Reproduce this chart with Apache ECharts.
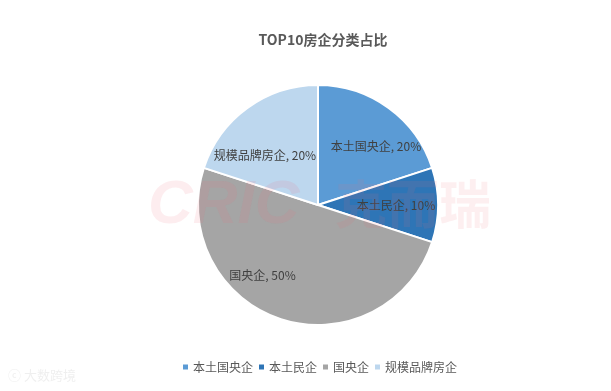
<!DOCTYPE html>
<html>
<head>
<meta charset="utf-8">
<script src="https://cdn.jsdelivr.net/npm/echarts@6/dist/echarts.min.js"></script>
<style>html,body{margin:0;padding:0;background:#fff;}#c{width:611px;height:391px;}</style>
</head>
<body>
<div id="c"></div>
<script>
var categories = ['本土国央企', '本土民企', '国央企', '规模品牌房企'];
var values = [20, 10, 50, 20];
var colors = ['#5B9BD5', '#2E75B6', '#A5A5A5', '#BDD7EE'];
var labelOffsets = [[21, -8], [15, 0], [-36, 11], [-16, 1]];

var chart = echarts.init(document.getElementById('c'));
chart.setOption({
  animation: false,
  backgroundColor: '#ffffff',
  title: {
    text: 'TOP10房企分类占比',
    left: 318, top: 28, textAlign: 'center',
    textStyle: { fontSize: 14, fontWeight: 'bold', color: '#595959', fontFamily: 'Noto Sans CJK SC' }
  },
  legend: {
    bottom: 13, left: 176,
    itemWidth: 7, itemHeight: 7, itemGap: 4, icon: 'rect',
    textStyle: { fontSize: 12, color: '#595959', fontFamily: 'Noto Sans CJK SC', padding: [0,0,0,-1] },
    data: categories
  },
  graphic: [
    { type: 'text', left: 148, top: 175, z: 100, silent: true,
      style: { text: 'CRIC', fontSize: 62, fontWeight: 'bold', fontStyle: 'italic', fill: 'rgba(235,110,120,0.12)', fontFamily: 'Liberation Sans' } },
    { type: 'text', left: 335, top: 178, z: 100, silent: true,
      style: { text: '克而瑞', fontSize: 52, fontWeight: 'bold', fill: 'rgba(235,110,120,0.11)', fontFamily: 'Noto Sans CJK SC' } },
    { type: 'text', left: 8, top: 369, z: 100, silent: true,
      style: { text: 'ⓒ 大数跨境', fontSize: 13, fill: 'rgba(190,190,190,0.25)', fontFamily: 'Noto Sans CJK SC' } }
  ],
  series: [{
    type: 'pie',
    center: [318, 205],
    radius: [0, 120],
    startAngle: 90,
    clockwise: true,
    avoidLabelOverlap: false,
    itemStyle: { borderColor: '#ffffff', borderWidth: 2 },
    label: {
      show: true, position: 'inside',
      formatter: function (p) { return p.name + ', ' + p.value + '%'; },
      fontSize: 12, color: '#404040', fontFamily: 'Noto Sans CJK SC'
    },
    labelLine: { show: false },
    data: categories.map(function (c, i) {
      return { name: c, value: values[i], itemStyle: { color: colors[i] }, label: { offset: labelOffsets[i] } };
    })
  }]
});
</script>
</body>
</html>
